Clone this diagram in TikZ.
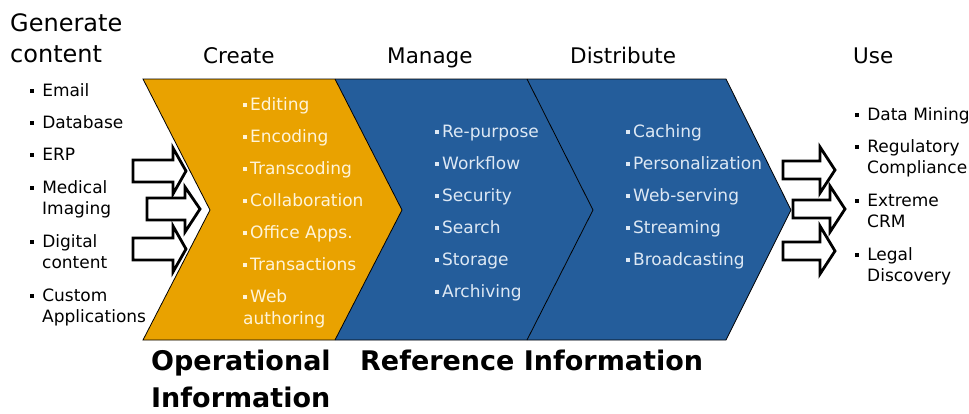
\documentclass[tikz,border=0pt]{standalone}
\usepackage{fontspec}
\setmainfont{DejaVu Sans}
\definecolor{orng}{HTML}{E9A200}
\definecolor{chblue}{HTML}{245D9B}
\definecolor{ocream}{HTML}{FFF4D8}
\definecolor{lblue}{HTML}{DDE8F4}
\newcommand\sqb{\rule[0.2em]{0.21em}{0.21em}}
\begin{document}
\begin{tikzpicture}[x=1pt,y=-1pt,
  lst/.style={anchor=base west, inner sep=0pt, font=\fontsize{17}{20}\selectfont, text=black},
  otxt/.style={lst, text=ocream},
  btxt/.style={lst, text=lblue},
  headtxt/.style={anchor=base west, inner sep=0pt, font=\fontsize{21.5}{26}\selectfont},
  bigtxt/.style={anchor=base west, inner sep=0pt, font=\bfseries\fontsize{27}{32}\selectfont},
  chev/.style={draw=black, line width=0.8pt, line join=miter},
  blk/.style={draw=black, fill=white, line width=2.8pt, line join=miter}]
\useasboundingbox (0,0) rectangle (969,413);

% chevrons
\fill[orng] (143,79) -- (335,79) -- (402,210) -- (335,340) -- (143,340) -- (210,210) -- cycle;
\fill[chblue] (335,79) -- (527,79) -- (593,210) -- (527,340) -- (335,340) -- (402,210) -- cycle;
\fill[chblue] (527,79) -- (726,79) -- (791,210) -- (726,340) -- (527,340) -- (593,210) -- cycle;
\draw[chev] (143,79) -- (726,79) -- (791,210) -- (726,340) -- (143,340) -- (210,210) -- cycle;
\draw[chev] (335,79) -- (402,210) -- (335,340);
\draw[chev] (527,79) -- (593,210) -- (527,340);

% block arrows (left)
\draw[blk] (133,160) -- (173,160) -- (173,148) -- (186,171) -- (173,194) -- (173,182) -- (133,182) -- cycle;
\draw[blk] (147,198) -- (185,198) -- (185,187) -- (200,209) -- (185,232) -- (185,220) -- (147,220) -- cycle;
\draw[blk] (133,238) -- (173,238) -- (173,226) -- (186,249) -- (173,272) -- (173,260) -- (133,260) -- cycle;
% block arrows (right)
\draw[blk] (783,161) -- (820,161) -- (820,147) -- (835,170) -- (820,193) -- (820,179) -- (783,179) -- cycle;
\draw[blk] (793,200) -- (830,200) -- (830,186) -- (845,209) -- (830,232) -- (830,218) -- (793,218) -- cycle;
\draw[blk] (783,242) -- (820,242) -- (820,226) -- (835,251) -- (820,274) -- (820,260) -- (783,260) -- cycle;

% headings
\node[headtxt, font=\fontsize{24}{28}\selectfont] (gen1) at (10,31) {Generate};
\node[headtxt, font=\fontsize{24}{28}\selectfont] (gen2) at (10,62) {content};
\node[headtxt] (hcreate) at (203,63) {Create};
\node[headtxt] (hmanage) at (387,63) {Manage};
\node[headtxt] (hdist) at (570,63) {Distribute};
\node[headtxt] (huse) at (853,63) {Use};

% left list
\node[lst] (l1) at (30,96) {\sqb\hspace{0.5em}Email};
\node[lst] (l2) at (30,128) {\sqb\hspace{0.5em}Database};
\node[lst] (l3) at (30,160) {\sqb\hspace{0.5em}ERP};
\node[lst] (l4) at (30,193) {\sqb\hspace{0.5em}Medical};
\node[lst] (l4b) at (42,214) {Imaging};
\node[lst] (l5) at (30,247) {\sqb\hspace{0.5em}Digital};
\node[lst] (l5b) at (42,268) {content};
\node[lst] (l6) at (30,301) {\sqb\hspace{0.5em}Custom};
\node[lst] (l6b) at (42,322) {Applications};

% create
\node[otxt] (c1) at (243,110) {\sqb\hspace{0.2em}Editing};
\node[otxt] (c2) at (243,142) {\sqb\hspace{0.2em}Encoding};
\node[otxt] (c3) at (243,174) {\sqb\hspace{0.2em}Transcoding};
\node[otxt] (c4) at (243,206) {\sqb\hspace{0.2em}Collaboration};
\node[otxt] (c5) at (243,238) {\sqb\hspace{0.2em}Office Apps.};
\node[otxt] (c6) at (243,270) {\sqb\hspace{0.2em}Transactions};
\node[otxt] (c7) at (243,302) {\sqb\hspace{0.2em}Web};
\node[otxt] (c7b) at (243,324) {authoring};

% manage
\node[btxt] (m1) at (435,137) {\sqb\hspace{0.2em}Re-purpose};
\node[btxt] (m2) at (435,169) {\sqb\hspace{0.2em}Workflow};
\node[btxt] (m3) at (435,201) {\sqb\hspace{0.2em}Security};
\node[btxt] (m4) at (435,233) {\sqb\hspace{0.2em}Search};
\node[btxt] (m5) at (435,265) {\sqb\hspace{0.2em}Storage};
\node[btxt] (m6) at (435,297) {\sqb\hspace{0.2em}Archiving};

% distribute
\node[btxt] (d1) at (626,137) {\sqb\hspace{0.2em}Caching};
\node[btxt] (d2) at (626,169) {\sqb\hspace{0.2em}Personalization};
\node[btxt] (d3) at (626,201) {\sqb\hspace{0.2em}Web-serving};
\node[btxt] (d4) at (626,233) {\sqb\hspace{0.2em}Streaming};
\node[btxt] (d5) at (626,265) {\sqb\hspace{0.2em}Broadcasting};

% use list
\node[lst] (u1) at (855,120) {\sqb\hspace{0.5em}Data Mining};
\node[lst] (u2) at (855,152) {\sqb\hspace{0.5em}Regulatory};
\node[lst] (u2b) at (867,173) {Compliance};
\node[lst] (u3) at (855,206) {\sqb\hspace{0.5em}Extreme};
\node[lst] (u3b) at (867,227) {CRM};
\node[lst] (u4) at (855,260) {\sqb\hspace{0.5em}Legal};
\node[lst] (u4b) at (867,281) {Discovery};

% bottom labels
\node[bigtxt] (op1) at (151,370) {Operational};
\node[bigtxt] (op2) at (151,407) {Information};
\node[bigtxt] (ref) at (360,370) {Reference Information};
\end{tikzpicture}
\end{document}
